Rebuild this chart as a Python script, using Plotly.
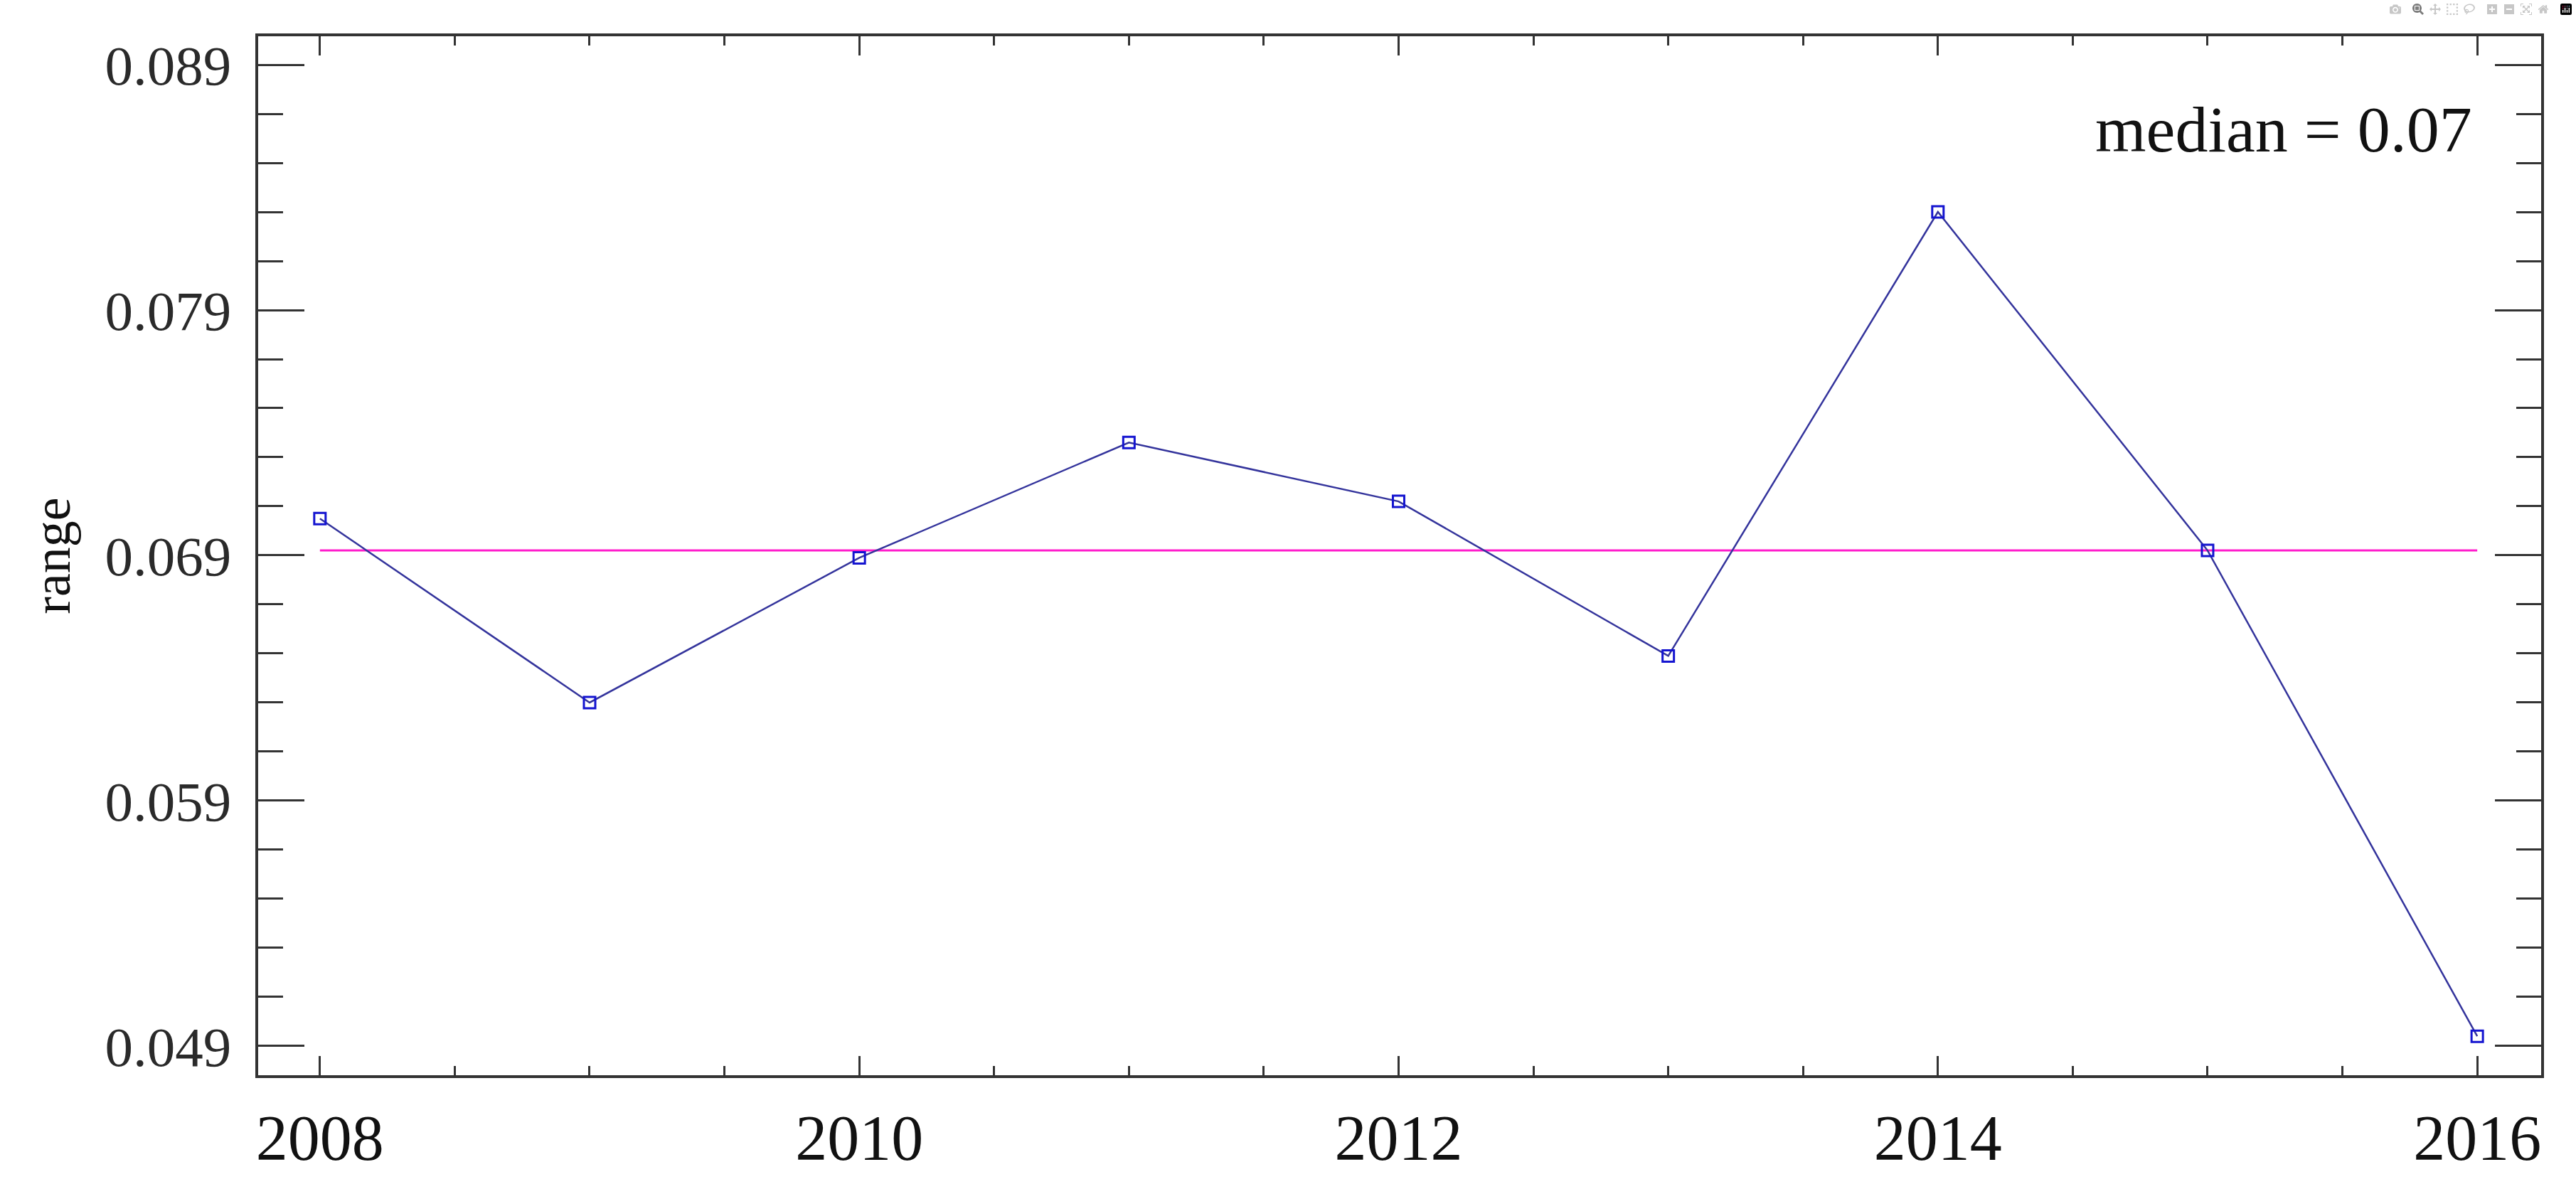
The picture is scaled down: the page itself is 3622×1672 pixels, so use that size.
import numpy as np
import plotly.graph_objects as go

# ---- data ----
years = [2008, 2009, 2010, 2011, 2012, 2013, 2014, 2015, 2016]
range_values = [0.0705, 0.0630, 0.0689, 0.0736, 0.0712, 0.0649, 0.0830, 0.0692, 0.0494]
median_value = float(np.median(range_values))
median_label = "median = 0.07"
y_title = "range"
x_tick_vals = [2008, 2010, 2012, 2014, 2016]
x_tick_text = ["2008", "2010", "2012", "2014", "2016"]
y_tick_vals = [0.049, 0.059, 0.069, 0.079, 0.089]
y_tick_text = ["0.049", "0.059", "0.069", "0.079", "0.089"]

W, H = 3622, 1672
FONT = "Liberation Serif, Times New Roman, serif"
AXC = "#333333"

fig = go.Figure()

# median line
fig.add_trace(go.Scatter(
    x=[years[0], years[-1]], y=[median_value, median_value],
    mode="lines", line=dict(color="#ff1ccc", width=3),
    hoverinfo="skip", showlegend=False,
))

# series
fig.add_trace(go.Scatter(
    x=years, y=range_values, mode="lines+markers",
    line=dict(color="#34349c", width=2.5),
    marker=dict(symbol="square-open", size=16, color="#1414d0",
                line=dict(width=3, color="#1414d0")),
    showlegend=False,
))

fig.add_annotation(
    text=median_label, xref="paper", yref="paper",
    x=0.9704, y=0.9103, xanchor="right", yanchor="middle",
    showarrow=False, font=dict(family=FONT, size=92, color="#111111"),
)

fig.update_xaxes(
    range=[2007.771, 2016.237],
    tickmode="array", tickvals=x_tick_vals, ticktext=x_tick_text,
    ticks="inside", ticklen=27, tickwidth=3, tickcolor=AXC,
    minor=dict(dtick=0.5, tick0=2008, ticks="inside", ticklen=13,
               tickwidth=3, tickcolor=AXC, showgrid=False),
    showline=True, linewidth=4, linecolor=AXC, mirror="ticks",
    showgrid=False, zeroline=False,
    tickfont=dict(family=FONT, size=90, color="#111111"),
    ticklabelstandoff=7,
)
fig.update_yaxes(
    range=[0.04781, 0.09016],
    tickmode="array", tickvals=y_tick_vals, ticktext=y_tick_text,
    ticks="inside", ticklen=65, tickwidth=3, tickcolor=AXC,
    minor=dict(dtick=0.002, tick0=0.049, ticks="inside", ticklen=35,
               tickwidth=3, tickcolor=AXC, showgrid=False),
    showline=True, linewidth=4, linecolor=AXC, mirror="ticks",
    showgrid=False, zeroline=False,
    tickfont=dict(family=FONT, size=79, color="#2a2a2a"),
    ticklabelstandoff=18,
    title=dict(text=y_title, font=dict(family=FONT, size=74, color="#111111"),
               standoff=26),
)

fig.update_layout(
    width=W, height=H,
    margin=dict(l=363, r=49, t=51, b=160, autoexpand=False),
    paper_bgcolor="white", plot_bgcolor="white",
    font=dict(family=FONT),
)

fig.write_html("out.html", post_script="document.body.style.margin='0';")
